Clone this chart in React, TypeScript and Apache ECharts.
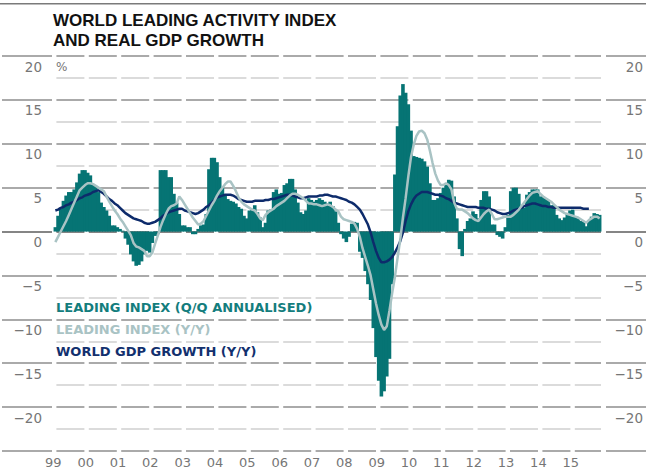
import React, { useEffect, useRef } from 'react';
import * as echarts from 'echarts';

// Year labels on the x axis (two-digit years); the data is monthly, Jan 1999 .. Nov 2015
const years = ['99', '00', '01', '02', '03', '04', '05', '06', '07', '08', '09', '10', '11', '12', '13', '14', '15'];
const monthsInLastYear = 11;

// Y-axis tick labels shown (every 5 %), gridlines every 2.5 %
const yTickLabels = [20, 15, 10, 5, 0, -5, -10, -15, -20];

// World leading activity index, Q/Q annualised (%), monthly
const leadingQQ = [
  0.5, 1.8, 2.6, 3.5, 4.1, 4.5, 4.5, 4.8, 5.6, 6.6, 7.0, 7.0, // 1999
  6.7, 6.4, 5.4, 5.2, 4.5, 3.3, 2.8, 2.4, 1.8, 0.7, 0.7, 0.5, // 2000
  0.3, 0.1, -0.8, -1.5, -2.6, -3.4, -3.9, -3.8, -3.4, -2.6, -2.2, -2.4, // 2001
  -1.3, -0.5, -0.3, 7.0, 7.0, 7.0, 6.2, 6.2, 4.3, 3.3, 2.0, 0.7, // 2002
  0.7, 0.5, 0.5, -0.3, -0.3, 0.3, 0.7, 0.8, 2.0, 7.1, 8.4, 8.4, // 2003
  7.9, 6.2, 5.0, 4.1, 3.7, 3.5, 3.4, 3.2, 2.8, 2.6, 1.8, 1.5, // 2004
  2.4, 2.6, 3.0, 2.2, 1.6, 0.5, 1.0, 2.4, 2.5, 4.5, 4.8, 4.3, // 2005
  4.4, 5.3, 5.5, 6.0, 6.0, 4.8, 3.3, 2.2, 2.0, 2.4, 3.8, 3.6, // 2006
  3.4, 3.6, 3.8, 3.6, 3.4, 3.2, 3.4, 2.9, 2.3, 1.0, -0.3, -0.8, // 2007
  -1.2, -0.6, 0.9, 1.1, 1.0, -2.3, -3.0, -4.5, -6.0, -7.8, -11.0, -14.3, // 2008
  -17.0, -18.8, -18.2, -16.5, -14.5, -6.0, 6.5, 12.0, 15.5, 16.8, 15.8, 14.5, // 2009
  11.5, 8.6, 8.5, 8.4, 8.3, 8.0, 7.4, 5.5, 3.6, 3.6, 3.8, 4.4, // 2010
  5.0, 5.3, 5.9, 5.8, 4.0, 1.5, -2.0, -2.8, 0.3, 1.2, 1.5, 2.3, // 2011
  2.0, 1.5, 3.6, 4.6, 4.6, 4.0, 0.8, 0.8, -0.4, -0.6, -0.8, 0.5, // 2012
  1.9, 4.6, 5.0, 5.0, 4.3, 2.7, 2.7, 4.2, 4.5, 4.8, 4.8, 4.8, // 2013
  4.0, 4.0, 3.8, 3.6, 3.0, 3.0, 1.9, 1.5, 1.3, 1.6, 2.1, 2.4, // 2014
  2.5, 1.7, 1.5, 1.2, 1.1, 0.6, 1.2, 1.7, 2.1, 2.0, 1.9, // 2015
];

// World leading activity index, Y/Y (%), monthly
const leadingYY = [
  -1.2, -0.6, 0.0, 0.6, 1.2, 1.9, 2.6, 3.3, 4.0, 4.7, 5.0, 5.3, // 1999
  5.5, 5.5, 5.4, 5.2, 5.0, 4.8, 4.6, 4.0, 3.4, 2.9, 2.4, 2.0, // 2000
  1.5, 1.1, 0.6, 0.1, -0.4, -1.3, -1.7, -1.8, -2.0, -2.2, -2.8, -2.8, // 2001
  -2.4, -1.4, -0.5, 0.5, 1.3, 2.0, 2.6, 2.9, 3.0, 3.2, 4.0, 3.6, // 2002
  3.1, 2.6, 2.1, 1.6, 1.2, 0.8, 0.9, 1.2, 1.8, 2.4, 3.0, 3.5, // 2003
  4.1, 4.6, 5.0, 5.4, 5.7, 5.7, 5.2, 4.6, 3.9, 3.4, 3.1, 2.9, // 2004
  2.7, 2.5, 2.4, 2.0, 1.5, 1.3, 1.9, 2.2, 2.4, 2.6, 2.9, 3.1, // 2005
  3.3, 3.5, 3.8, 4.1, 4.3, 4.3, 4.2, 4.0, 3.8, 3.5, 3.2, 3.2, // 2006
  3.1, 3.1, 3.0, 2.9, 3.0, 3.1, 3.0, 2.8, 2.5, 2.3, 1.7, 1.4, // 2007
  1.3, 1.2, 1.1, 0.9, 0.3, -0.6, -1.9, -2.9, -3.9, -5.0, -6.6, -8.2, // 2008
  -9.5, -10.6, -11.2, -10.8, -9.0, -7.0, -5.2, -3.0, -0.9, 1.6, 3.8, 6.3, // 2009
  8.5, 9.9, 10.9, 11.4, 11.5, 11.2, 10.5, 9.2, 7.8, 6.6, 5.8, 5.3, // 2010
  5.3, 5.5, 5.3, 4.8, 3.3, 2.6, 2.5, 2.5, 2.3, 2.1, 1.8, 1.5, // 2011
  1.3, 1.2, 1.6, 2.0, 2.3, 2.5, 2.0, 1.4, 1.4, 1.5, 1.6, 1.7, // 2012
  1.7, 1.7, 1.9, 2.2, 2.5, 2.9, 3.3, 3.7, 4.1, 4.4, 4.5, 4.6, // 2013
  4.3, 4.0, 3.8, 3.6, 3.4, 3.1, 2.8, 2.5, 2.3, 2.1, 2.0, 1.9, // 2014
  1.8, 1.7, 1.6, 1.4, 1.2, 1.0, 1.3, 1.5, 1.7, 1.7, 1.5, // 2015
];

// World real GDP growth, Y/Y (%), monthly (ends Jul 2015)
const worldGDP = [
  2.4, 2.5, 2.7, 2.8, 3.0, 3.1, 3.3, 3.4, 3.6, 3.8, 3.9, 4.1, // 1999
  4.2, 4.3, 4.5, 4.6, 4.7, 4.5, 4.3, 4.0, 3.7, 3.5, 3.2, 3.0, // 2000
  2.7, 2.4, 2.1, 1.9, 1.7, 1.5, 1.4, 1.3, 1.2, 1.0, 0.9, 0.9, // 2001
  1.0, 1.1, 1.3, 1.5, 1.8, 2.0, 2.2, 2.3, 2.4, 2.5, 2.6, 2.6, // 2002
  2.4, 2.3, 2.2, 2.1, 2.0, 2.1, 2.3, 2.5, 2.8, 3.0, 3.3, 3.6, // 2003
  3.9, 4.0, 4.1, 4.2, 4.2, 4.2, 4.1, 3.9, 3.7, 3.6, 3.5, 3.4, // 2004
  3.4, 3.4, 3.5, 3.5, 3.5, 3.5, 3.6, 3.6, 3.7, 3.7, 3.8, 3.9, // 2005
  4.0, 4.1, 4.2, 4.2, 4.1, 4.0, 3.9, 3.8, 3.8, 3.9, 4.0, 4.0, // 2006
  4.0, 4.0, 4.1, 4.1, 4.2, 4.2, 4.1, 4.0, 4.0, 3.9, 3.8, 3.7, // 2007
  3.6, 3.4, 3.3, 3.1, 2.8, 2.5, 2.0, 1.4, 0.8, -0.1, -1.2, -2.2, // 2008
  -3.0, -3.5, -3.5, -3.4, -3.2, -2.9, -2.4, -1.8, -1.1, -0.1, 1.2, 2.3, // 2009
  3.1, 3.7, 4.1, 4.3, 4.5, 4.5, 4.5, 4.4, 4.3, 4.2, 4.2, 4.1, // 2010
  4.0, 3.8, 3.7, 3.5, 3.3, 3.2, 3.1, 3.0, 2.9, 2.8, 2.8, 2.8, // 2011
  2.8, 2.7, 2.7, 2.7, 2.6, 2.6, 2.5, 2.4, 2.2, 2.1, 2.0, 2.0, // 2012
  2.1, 2.2, 2.4, 2.5, 2.6, 2.7, 2.9, 3.0, 3.1, 3.2, 3.2, 3.1, // 2013
  3.0, 2.9, 2.9, 2.8, 2.8, 2.7, 2.7, 2.7, 2.7, 2.7, 2.7, 2.7, // 2014
  2.7, 2.7, 2.7, 2.7, 2.6, 2.6, 2.6, // 2015
];

const SERIES_QQ = 'LEADING INDEX (Q/Q ANNUALISED)';
const SERIES_YY = 'LEADING INDEX (Y/Y)';
const SERIES_GDP = 'WORLD GDP GROWTH (Y/Y)';

const TEAL = '#067474';
const LIGHT = '#a9c3c4';
const NAVY = '#0d2b6b';
const LABEL_GREY = '#767676';
const MAJOR_GRID = '#8e8e8e';
const MINOR_GRID = '#cfcfcf';
const ZERO_GRID = '#5c5c5c';

const categories: string[] = [];
years.forEach((y, i) => {
  const n = i === years.length - 1 ? monthsInLastYear : 12;
  for (let m = 1; m <= n; m++) categories.push(`${y}-${m}`);
});

const fmt = (v: number) => (v < 0 ? '\u2212' + Math.abs(v) : String(v));
const yLabel = (v: number) => (yTickLabels.includes(v) ? fmt(v) : '');

// Monthly bars drawn through the axes' scales; each is widened by a hair so that
// neighbouring months join into one solid block, as in the original.
const renderMonthBar = (_params: any, api: any) => {
  const idx = api.value(0);
  const val = api.value(1);
  const base = api.coord([idx, 0]);
  const tip = api.coord([idx, val]);
  const w = api.size([1, 0])[0];
  return {
    type: 'rect',
    shape: {
      x: base[0] - w / 2 - 0.45,
      y: Math.min(base[1], tip[1]),
      width: w + 0.9,
      height: Math.abs(tip[1] - base[1]),
    },
    style: { fill: TEAL },
  };
};

export default function App() {
  const ref = useRef<HTMLDivElement>(null);

  useEffect(() => {
    if (!ref.current) return;
    const chart = echarts.init(ref.current, null, { renderer: 'svg' });

    const gridColors: string[] = [];
    for (let v = -25; v <= 20; v += 2.5) {
      gridColors.push(v === 0 ? ZERO_GRID : Math.round(v * 2) % 10 === 0 ? MAJOR_GRID : MINOR_GRID);
    }
    const colColors: string[] = [];
    for (let v = -25; v <= 20; v += 5) colColors.push(v === 0 ? ZERO_GRID : MAJOR_GRID);

    const gdpFull = categories.map((_, i) => (i < worldGDP.length ? worldGDP[i] : null));
    const qqData = leadingQQ.map((v, i) => [i, v]);

    const top = 56;
    const height = 395;

    const option: any = {
      animation: false,
      title: {
        text: 'WORLD LEADING ACTIVITY INDEX\nAND REAL GDP GROWTH',
        left: 53,
        top: 10,
        padding: 0,
        textStyle: {
          fontFamily: '"Liberation Sans", Arial, sans-serif',
          fontWeight: 'bold',
          fontSize: 17,
          lineHeight: 20,
          color: '#111111',
        },
      },
      legend: {
        orient: 'vertical',
        left: 51,
        top: 296,
        padding: 0,
        itemGap: 0,
        icon: 'none',
        itemWidth: 0,
        itemHeight: 0,
        selectedMode: false,
        textStyle: {
          fontFamily: '"DejaVu Sans", sans-serif',
          fontWeight: 'bold',
          fontSize: 13,
          lineHeight: 22.3,
        },
        data: [
          { name: SERIES_QQ, textStyle: { color: '#137d7d' } },
          { name: SERIES_YY, textStyle: { color: LIGHT } },
          { name: SERIES_GDP, textStyle: { color: '#12306e' } },
        ],
      },
      grid: [
        { left: 54, right: 43, top, height },
        { left: 2, width: 50, top, height },
        { left: 606, right: 0, top, height },
      ],
      xAxis: [
        {
          type: 'category',
          gridIndex: 0,
          data: categories,
          boundaryGap: true,
          axisLine: { show: false },
          axisTick: { show: false },
          splitLine: { show: false },
          axisLabel: {
            interval: (index: number) => index % 12 === 0,
            formatter: (v: string) => v.split('-')[0],
            color: LABEL_GREY,
            fontFamily: '"DejaVu Sans", sans-serif',
            fontSize: 13,
            lineHeight: 14,
            margin: 4,
            padding: [0, 4, 0, 0],
          },
        },
        { type: 'value', gridIndex: 1, min: 0, max: 1, show: false },
        { type: 'value', gridIndex: 2, min: 0, max: 1, show: false },
      ],
      yAxis: [
        {
          type: 'value',
          gridIndex: 0,
          position: 'left',
          min: -25,
          max: 20,
          interval: 2.5,
          axisLine: { show: false },
          axisTick: { show: false },
          axisLabel: {
            formatter: yLabel,
            color: LABEL_GREY,
            fontFamily: '"DejaVu Sans", sans-serif',
            fontSize: 13.5,
            verticalAlign: 'top',
            lineHeight: 21,
            margin: 12,
          },
          splitLine: {
            show: true,
            lineStyle: { color: gridColors, width: 1.5, type: [28, 4.4], dashOffset: 30.4 },
          },
        },
        {
          type: 'value',
          gridIndex: 0,
          position: 'right',
          min: -25,
          max: 20,
          interval: 2.5,
          axisLine: { show: false },
          axisTick: { show: false },
          splitLine: { show: false },
          axisLabel: {
            formatter: yLabel,
            color: LABEL_GREY,
            fontFamily: '"DejaVu Sans", sans-serif',
            fontSize: 13.5,
            verticalAlign: 'top',
            lineHeight: 21,
            align: 'right',
            margin: 42,
          },
        },
        {
          type: 'value',
          gridIndex: 1,
          min: -25,
          max: 20,
          interval: 5,
          axisLine: { show: false },
          axisTick: { show: false },
          axisLabel: { show: false },
          splitLine: { show: true, lineStyle: { color: colColors, width: 1.5, type: 'solid' } },
        },
        {
          type: 'value',
          gridIndex: 2,
          min: -25,
          max: 20,
          interval: 5,
          axisLine: { show: false },
          axisTick: { show: false },
          axisLabel: { show: false },
          splitLine: { show: true, lineStyle: { color: colColors, width: 1.5, type: 'solid' } },
        },
      ],
      graphic: [
        { type: 'rect', left: 0, top: 3, shape: { width: 646, height: 1.5 }, style: { fill: '#7a7a7a' } },
        {
          type: 'text',
          x: 56,
          y: 67,
          style: {
            text: '%',
            font: '12px "DejaVu Sans", sans-serif',
            fill: LABEL_GREY,
            verticalAlign: 'middle',
          },
        },
      ],
      series: [
        {
          name: SERIES_QQ,
          type: 'custom',
          xAxisIndex: 0,
          yAxisIndex: 0,
          data: qqData,
          encode: { x: 0, y: 1 },
          renderItem: renderMonthBar,
          itemStyle: { color: TEAL },
        },
        {
          name: SERIES_GDP,
          type: 'line',
          xAxisIndex: 0,
          yAxisIndex: 0,
          data: gdpFull,
          symbol: 'none',
          lineStyle: { color: NAVY, width: 2.5 },
          itemStyle: { color: NAVY },
        },
        {
          name: SERIES_YY,
          type: 'line',
          xAxisIndex: 0,
          yAxisIndex: 0,
          data: leadingYY,
          symbol: 'none',
          lineStyle: { color: LIGHT, width: 2.5 },
          itemStyle: { color: LIGHT },
        },
      ],
    };

    chart.setOption(option);
    return () => chart.dispose();
  }, []);

  return (
    <div
      ref={ref}
      style={{ position: 'fixed', left: 0, top: 0, width: 646, height: 472, background: '#fff' }}
    />
  );
}
